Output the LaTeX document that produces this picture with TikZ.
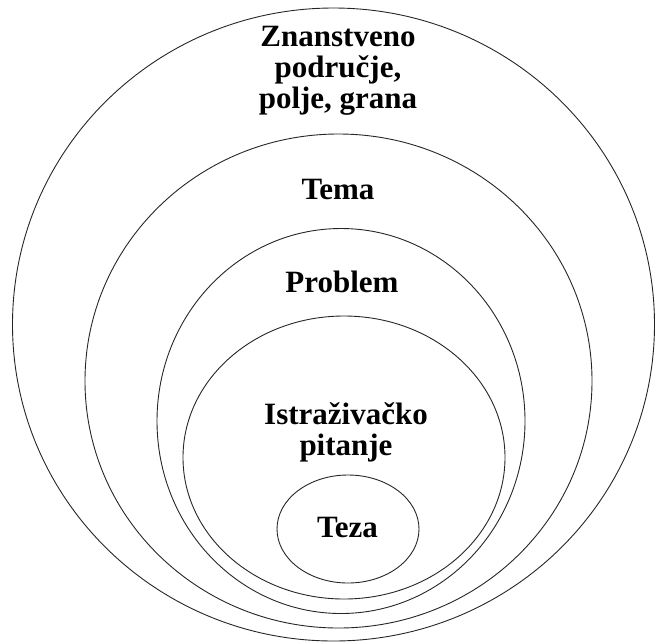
\documentclass[tikz,border=0pt]{standalone}
\usepackage{fontspec}
\setmainfont{Liberation Serif}
\usetikzlibrary{shapes.geometric}
\begin{document}
\begin{tikzpicture}[x=1pt,y=-1pt,
  ring/.style={ellipse,draw=black!85,line width=0.9pt,inner sep=0pt},
  lbl/.style={font=\fontsize{31}{31}\selectfont\bfseries,align=center,inner sep=0pt,anchor=base}]
\useasboundingbox (0,0) rectangle (656,641);
\node[ring,minimum width=642pt,minimum height=633pt] (outer) at (333.5,324.5) {};
\node[ring,minimum width=507pt,minimum height=494pt] (tema) at (338.5,381) {};
\node[ring,minimum width=368pt,minimum height=385pt] (problem) at (341,421) {};
\node[ring,minimum width=322pt,minimum height=283pt] (pitanje) at (344,457.5) {};
\node[ring,minimum width=142pt,minimum height=108pt] (teza) at (348,529) {};
\node[lbl] (t1) at (338,108) {Znanstveno\\područje,\\polje, grana};
\node[lbl] (t2) at (338,199.5) {Tema};
\node[lbl] (t3) at (342,292) {Problem};
\node[lbl] (t4) at (346,455) {Istraživačko\\pitanje};
\node[lbl] (t5) at (347.5,537) {Teza};
\end{tikzpicture}
\end{document}
